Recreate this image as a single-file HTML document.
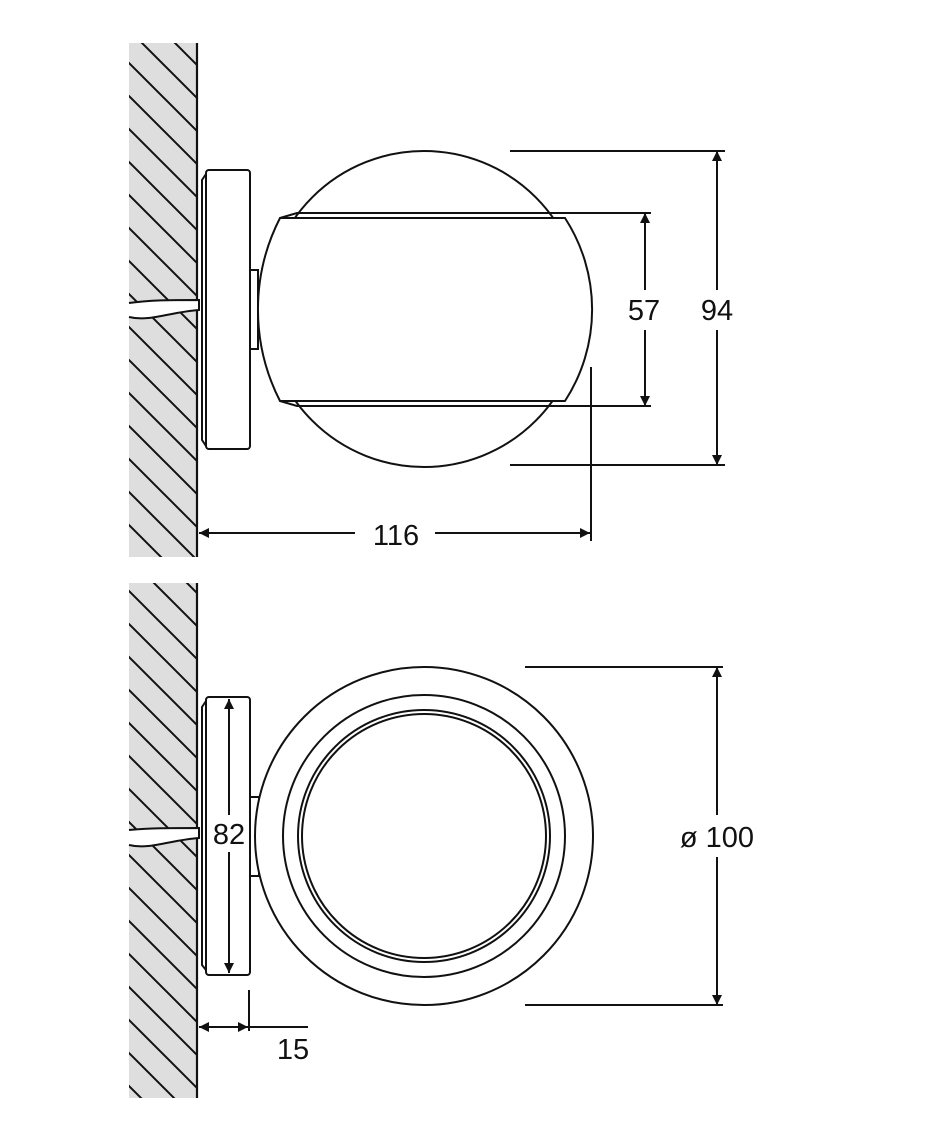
<!DOCTYPE html>
<html><head><meta charset="utf-8"><style>
html,body{margin:0;padding:0;background:#fff;}
svg{display:block;}
text{font-family:"Liberation Sans",sans-serif;font-size:29px;fill:#111;}
</style></head><body>
<svg width="928" height="1134" viewBox="0 0 928 1134" xmlns="http://www.w3.org/2000/svg">
<defs>
<pattern id="h" patternUnits="userSpaceOnUse" width="33" height="33">
<path d="M-5,-5 L38,38 M-38,-5 L5,38 M28,-5 L71,38" stroke="#111" stroke-width="2"/>
</pattern>
<clipPath id="c1"><rect x="129" y="43" width="68" height="514"/></clipPath>
<clipPath id="c2"><rect x="129" y="583" width="68" height="515"/></clipPath>
<marker id="a" viewBox="0 0 10 10" refX="10" refY="5" markerWidth="18" markerHeight="10" markerUnits="userSpaceOnUse" orient="auto"><path d="M0,0 L10,5 L0,10 Z" fill="#111"/></marker>
</defs>
<g fill="none" stroke="#111" stroke-width="2">
<rect x="129" y="43" width="68" height="514" fill="#dedede" stroke="none"/>
<rect x="129" y="43" width="68" height="514" fill="url(#h)" stroke="none" clip-path="url(#c1)"/>
<rect x="129" y="583" width="68" height="515" fill="#dedede" stroke="none"/>
<rect x="129" y="583" width="68" height="515" fill="url(#h)" stroke="none" clip-path="url(#c2)"/>
<line x1="197" y1="43" x2="197" y2="557" stroke-width="2.2"/>
<line x1="197" y1="583" x2="197" y2="1098" stroke-width="2.2"/>

<path d="M129,303 C150,300 170,300 199,300 L199,310 C170,312 150,322 129,317" fill="#fff"/>
<path d="M202,180 L202,440 L206,446 L206,174 Z" fill="#fff"/>
<rect x="206" y="170" width="44" height="279" rx="3" fill="#fff"/>
<rect x="250" y="270" width="8" height="79" fill="#fff"/>
<circle cx="424" cy="309" r="158" fill="#fff"/>
<path d="M280,218 A201,201 0 0 0 280,401 L565,401 A168,168 0 0 0 565,218 Z" fill="#fff"/>
<path d="M280,218 L297,213 L565,213 M280,401 L297,406 L565,406"/>

<line x1="510" y1="151" x2="725" y2="151"/>
<line x1="510" y1="465" x2="725" y2="465"/>
<line x1="717" y1="290" x2="717" y2="151" marker-end="url(#a)"/>
<line x1="717" y1="330" x2="717" y2="465" marker-end="url(#a)"/>
<text x="717" y="320" text-anchor="middle" stroke="none">94</text>
<line x1="565" y1="213" x2="651" y2="213"/>
<line x1="565" y1="406" x2="651" y2="406"/>
<line x1="645" y1="290" x2="645" y2="213" marker-end="url(#a)"/>
<line x1="645" y1="330" x2="645" y2="406" marker-end="url(#a)"/>
<text x="644" y="320" text-anchor="middle" stroke="none">57</text>
<line x1="591" y1="367" x2="591" y2="541"/>
<line x1="355" y1="533" x2="199" y2="533" marker-end="url(#a)"/>
<line x1="435" y1="533" x2="590" y2="533" marker-end="url(#a)"/>
<text x="396" y="545" text-anchor="middle" stroke="none">116</text>

<path d="M129,830 C150,828 170,828 199,828 L199,838 C170,840 150,850 129,845" fill="#fff"/>
<path d="M202,707 L202,965 L206,970 L206,701 Z" fill="#fff"/>
<rect x="206" y="697" width="44" height="278" rx="3" fill="#fff"/>
<rect x="250" y="797" width="9" height="79" fill="#fff"/>
<circle cx="424" cy="836" r="169" fill="#fff"/>
<circle cx="424" cy="836" r="141"/>
<circle cx="424" cy="836" r="126"/>
<circle cx="424" cy="836" r="122"/>
<line x1="229" y1="815" x2="229" y2="699" marker-end="url(#a)"/>
<line x1="229" y1="852" x2="229" y2="973" marker-end="url(#a)"/>
<text x="229" y="844" text-anchor="middle" stroke="none">82</text>
<line x1="249" y1="990" x2="249" y2="1031"/>
<line x1="222" y1="1027" x2="199" y2="1027" marker-end="url(#a)"/>
<line x1="222" y1="1027" x2="248" y2="1027" marker-end="url(#a)"/>
<line x1="249" y1="1027" x2="308" y2="1027"/>
<text x="293" y="1059" text-anchor="middle" stroke="none">15</text>

<line x1="525" y1="667" x2="723" y2="667"/>
<line x1="525" y1="1005" x2="723" y2="1005"/>
<line x1="717" y1="815" x2="717" y2="667" marker-end="url(#a)"/>
<line x1="717" y1="857" x2="717" y2="1005" marker-end="url(#a)"/>
<text x="717" y="847" text-anchor="middle" stroke="none">ø 100</text>
</g>
</svg>
</body></html>
